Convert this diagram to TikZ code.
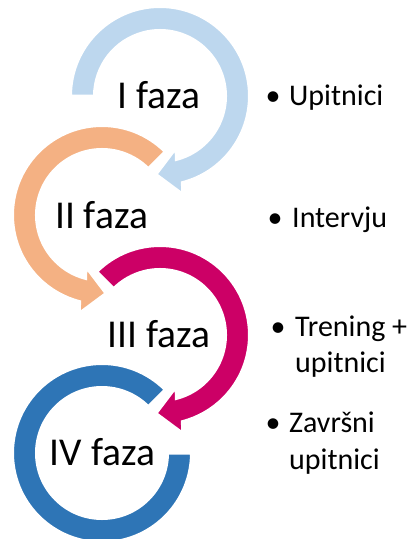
\documentclass[tikz,border=0pt]{standalone}
\usepackage{fontspec}
\setmainfont{Carlito}
\usetikzlibrary{calc}
\definecolor{c1}{RGB}{189,215,238}
\definecolor{c2}{RGB}{244,177,131}
\definecolor{c3}{RGB}{204,0,102}
\definecolor{c4}{RGB}{46,117,182}
\tikzset{
  ring/.style={draw=white, line width=3pt, line join=miter},
  phase/.style={inner sep=0pt, anchor=base, font=\fontsize{39.5}{46}\selectfont},
  item/.style={inner sep=0pt, anchor=base west, font=\fontsize{30}{37}\selectfont},
  bul/.style={inner sep=0pt, anchor=base, font=\fontsize{30}{37}\selectfont}
}
\begin{document}
\begin{tikzpicture}[x=1pt,y=1pt]
\useasboundingbox (0,0) rectangle (411,-539);
% circle 1
\begin{scope}[shift={(160,-96)}]
  \coordinate (m1) at (-75.5:77.5);
  \coordinate (t1) at (-93:78.5);
  \fill[c1, ring] (180:89.5) arc[start angle=180,end angle=-75.5,radius=89.5]
    -- ($(m1)!23.5pt!90:(t1)$) -- (t1) -- ($(m1)!23.5pt!-90:(t1)$)
    -- (-75.5:65.5) arc[start angle=-75.5,end angle=180,radius=65.5] -- cycle;
\end{scope}
% circle 2
\begin{scope}[shift={(102,-215)}]
  \coordinate (m2) at (255.5:77.5);
  \coordinate (t2) at (273:78.5);
  \fill[c2, ring] (45:89.5) arc[start angle=45,end angle=255.5,radius=89.5]
    -- ($(m2)!23.5pt!-90:(t2)$) -- (t2) -- ($(m2)!23.5pt!90:(t2)$)
    -- (255.5:65.5) arc[start angle=255.5,end angle=45,radius=65.5] -- cycle;
\end{scope}
% circle 3
\begin{scope}[shift={(160,-335)}]
  \coordinate (m3) at (-75.5:77.5);
  \coordinate (t3) at (-93:78.5);
  \fill[c3, ring] (135:89.5) arc[start angle=135,end angle=-75.5,radius=89.5]
    -- ($(m3)!23.5pt!90:(t3)$) -- (t3) -- ($(m3)!23.5pt!-90:(t3)$)
    -- (-75.5:65.5) arc[start angle=-75.5,end angle=135,radius=65.5] -- cycle;
\end{scope}
% circle 4
\begin{scope}[shift={(102,-453)}]
  \fill[c4, ring] (45:89.5) arc[start angle=45,end angle=360,radius=89.5]
    -- (0:65.5) arc[start angle=360,end angle=45,radius=65.5] -- cycle;
\end{scope}
% phase labels
\node[phase] (p1) at (159,-108) {I faza};
\node[phase] (p2) at (101.5,-228) {II faza};
\node[phase] (p3) at (159,-347) {III faza};
\node[phase] (p4) at (102.5,-465) {IV faza};
% bullet items
\node[bul] (b1) at (273,-105) {•};
\node[item] (i1) at (289,-105) {Upitnici};
\node[bul] (b2) at (275,-227) {•};
\node[item] (i2) at (292,-227) {Intervju};
\node[bul] (b3) at (278,-336) {•};
\node[item] (i3) at (295,-336) {Trening +};
\node[item] (i3b) at (295,-372) {upitnici};
\node[bul] (b4) at (273,-432) {•};
\node[item] (i4) at (289,-432) {Završni};
\node[item] (i4b) at (289,-469) {upitnici};
\end{tikzpicture}
\end{document}
